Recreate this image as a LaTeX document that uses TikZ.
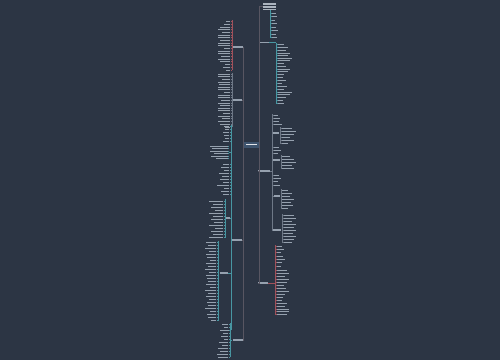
\documentclass[tikz,border=0pt]{standalone}
\definecolor{bg}{RGB}{44,53,68}
\definecolor{trunkc}{RGB}{88,86,98}
\definecolor{tealc}{RGB}{72,150,162}
\definecolor{redc}{RGB}{160,82,92}
\definecolor{grayc}{RGB}{110,120,135}
\definecolor{txtc}{RGB}{150,161,175}
\definecolor{nodebg}{RGB}{62,84,110}
\newcommand\leavesR[4]{\foreach \y/\w in {#4}{\draw[#3] (#1,\y) -- (#2,\y); \fill[txtc] (#2+0.4,\y-0.5) rectangle ++(\w,1.0);}}
\newcommand\leavesL[4]{\foreach \y/\w in {#4}{\draw[#3] (#1,\y) -- (#2,\y); \fill[txtc] (#2-0.4-\w,\y-0.5) rectangle (#2-0.4,\y+0.5);}}
\begin{document}
\begin{tikzpicture}[x=0.02cm,y=-0.02cm,
  trunk/.style={draw=trunkc,line width=0.4pt},
  tl/.style={draw=tealc,line width=0.35pt},
  rl/.style={draw=redc,line width=0.35pt},
  gl/.style={draw=grayc,line width=0.3pt},
  bn/.style={fill=txtc,inner sep=0pt,minimum height=0.03cm}]
\fill[bg] (0,0) rectangle (500,360);
\useasboundingbox (0,0) rectangle (500,360);
% center
\node (c) [fill=nodebg,inner sep=0pt,minimum width=0.3cm,minimum height=0.12cm] at (251.5,144.5) {};
\fill[white!85!nodebg] (246,143.9) rectangle (257,145.1);
% right branch nodes
\node (A) [fill=txtc!80!white,inner sep=0pt,minimum width=0.26cm,minimum height=0.14cm] at (269.5,6.5) {};
\fill[bg] (263,5.1) rectangle (276,5.7);
\fill[bg] (263,7.6) rectangle (276,8.2);
\node (B) [bn,minimum width=0.18cm] at (264.5,42.5) {};
\node (C) [bn,minimum width=0.24cm] at (264,171) {};
\node (E) [bn,minimum width=0.2cm] at (263,283) {};
% left branch nodes
\node (L1) [bn,minimum width=0.2cm] at (238,47) {};
\node (L2) [bn,minimum width=0.18cm] at (237.5,100) {};
\node (L3) [bn,minimum width=0.2cm] at (237,240) {};
\node (L4) [bn,minimum width=0.2cm] at (237.5,340) {};
% trunks
\draw[trunk] (c.east) |- (A.west);
\draw[trunk] (c.east) |- (B.west);
\draw[trunk] (c.east) |- (C.west);
\draw[trunk] (c.east) |- (E.west);
\draw[trunk] (c.west) |- (L1.east);
\draw[trunk] (c.west) |- (L2.east);
\draw[trunk] (c.west) |- (L3.east);
\draw[trunk] (c.west) |- (L4.east);
% ---- right A
\draw[tl] (270.5,10) -- (270.5,38);
\leavesR{270.5}{272}{tl}{13/4,16.5/5,20/3,23.5/5,27/4,30.5/6,34/4,37.5/5}
% ---- right B
\draw[tl] (B.east) -- (276,42.5);
\draw[tl] (276,43) -- (276,104);
\leavesR{276}{277.5}{tl}{44/6,47/10,50/8,53/12,55.5/10,58/14,60.5/12,63/6,66/8,69/12,71.5/10,74/6,77/5,80/8,83/4,86/9,89/6,92/14,94.5/12,97/8,100/5,103/6}
% ---- right C
\draw[gl] (C.east) -- (272,171);
\draw[gl] (272,114) -- (272,230);
\leavesR{272}{273.5}{gl}{115/4,118/6,121/5,124/8,147/5,150/7,153/4,175/5,178/7,181/4,185/6}
\node (C1) [bn,minimum width=0.12cm] at (276,133) {};
\node (C2) [bn,minimum width=0.14cm] at (276.5,160) {};
\node (C3) [bn,minimum width=0.12cm] at (277,196) {};
\node (C4) [bn,minimum width=0.16cm] at (277,230) {};
\draw[gl] (272,133) -- (C1.west);
\draw[gl] (272,160) -- (C2.west);
\draw[gl] (272,196) -- (C3.west);
\draw[gl] (272,230) -- (C4.west);
\draw[gl] (280.5,127) -- (280.5,144);
\leavesR{280.5}{281.5}{gl}{128/10,131/14,134/12,137/8,140/12,143/6}
\draw[gl] (281,155) -- (281,169);
\leavesR{281}{282}{gl}{156/8,159/12,162/14,165/10,168/12}
\draw[gl] (281,189) -- (281,209);
\leavesR{281}{282}{gl}{190/6,193/10,196/8,199/12,202/9,205/11,208/6}
\draw[gl] (282.5,214) -- (282.5,243);
\leavesR{282.5}{283.5}{gl}{215/10,218/12,221/8,224/12,227/10,230/12,233/9,236/12,239/10,242/8}
% ---- right E
\draw[rl] (E.east) -- (275,283);
\draw[rl] (275,245) -- (275,315);
\leavesR{275}{276.5}{rl}{246/5,249/7,252/4,256/6,259/8,262/5,266/4,270/10,273/12,276/8,279/12,282/10,285/7,288/9,291/12,294/8,297/6,300/5,303/10,306/8,309/12,311.5/12,314/10}
% ---- left L1
\draw[rl] (L1.west) -- (232,47);
\draw[rl] (232,20) -- (232,70);
\leavesL{232}{230.5}{rl}{21/4,24/6,27/10,29.5/12,32/8,35/12,37.5/12,40/10,43/12,45.5/12,48/6,51/12,53.5/12,56/9,59/12,61.5/10,64/5,67/7,70/4}
% ---- left L2
\draw[gl] (L2.west) -- (232,100);
\draw[gl] (232,73) -- (232,127);
\leavesL{232}{230.5}{gl}{74/12,76.5/12,79/8,82/12,84.5/11,87/12,89.5/12,92/6,95/12,97.5/12,100/9,103/12,105.5/10,108/12,110.5/12,113/7,116/12,118.5/8,121/12,124/10,127/5}
% ---- left L3
\draw[tl] (L3.west) -- (231,240);
\draw[tl] (231,125) -- (231,330);
\leavesL{231}{229.5}{tl}{126/5,129/4,132/6,135/5,138/4,141/6,164/6,167/8,170/5,173/10,176/7,179/9,182/6,185/12,188/5,191/8,194/6,330/5}
\draw[tl] (231,152) -- (228.5,152);
\leavesL{228.5}{228}{tl}{146/18,148.5/16,151/18,153.5/14,156/17,158.5/12}
\node (L3a) [bn,minimum width=0.08cm] at (228,218) {};
\draw[tl] (231,218) -- (L3a.east);
\draw[tl] (225,199) -- (225,238);
\leavesL{225}{223.5}{tl}{201/14,204/10,207/12,210/8,213/14,216/10,219/12,222/9,225/14,228/8,231/12,234/10,237/14}
\node (L3b) [bn,minimum width=0.16cm] at (223.5,273) {};
\draw[tl] (231,273) -- (L3b.east);
\draw[tl] (218,241) -- (218,321);
\leavesL{218}{216.5}{tl}{242/10,245/8,248/11,251/7,254/10,257/9,260/6,263/10,266/8,269/11,272/7,275/10,278/9,281/8,284/10,287/6,290/11,293/8,296/10,299/7,302/9,305/8,308/11,311/6,314/9,317/8,320/5}
% ---- left L4
\draw[tl] (L4.west) -- (230,340);
\draw[tl] (230,323) -- (230,357);
\leavesL{230}{228.5}{tl}{324/6,327/4,330/8,333/5,336/7,339/4,342/9,345/6,348/10,351/8,354/11,357/10}
\end{tikzpicture}
\end{document}
